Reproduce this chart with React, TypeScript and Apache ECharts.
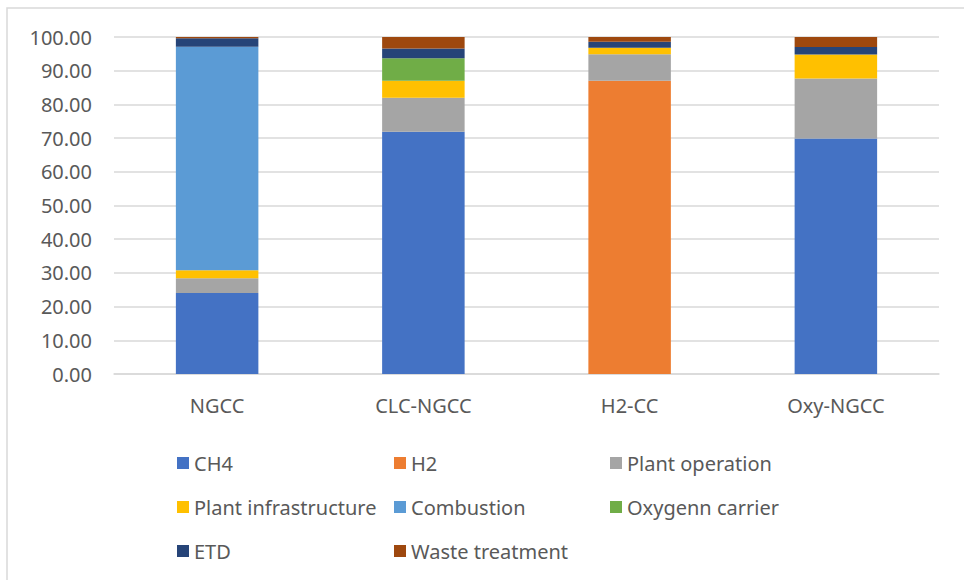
import React, { useEffect, useRef } from "react";
import * as echarts from "echarts";

const categories = ["NGCC", "CLC-NGCC", "H2-CC", "Oxy-NGCC"];
const ch4 = [24.0, 71.9, 0, 69.9];
const h2 = [0, 0, 87.0, 0];
const plantOperation = [4.4, 10.1, 7.9, 17.8];
const plantInfrastructure = [2.4, 5.0, 1.9, 7.1];
const combustion = [66.3, 0, 0, 0];
const oxygenCarrier = [0, 6.7, 0, 0];
const etd = [2.5, 2.9, 1.8, 2.2];
const wasteTreatment = [0.4, 3.4, 1.4, 3.0];
const yTicks = [0, 10, 20, 30, 40, 50, 60, 70, 80, 90, 100];

const seriesDefs = [
  { name: "CH4", data: ch4, color: "#4472C4" },
  { name: "H2", data: h2, color: "#ED7D31" },
  { name: "Plant operation", data: plantOperation, color: "#A5A5A5" },
  { name: "Plant infrastructure", data: plantInfrastructure, color: "#FFC000" },
  { name: "Combustion", data: combustion, color: "#5B9BD5" },
  { name: "Oxygenn carrier", data: oxygenCarrier, color: "#70AD47" },
  { name: "ETD", data: etd, color: "#264478" },
  { name: "Waste treatment", data: wasteTreatment, color: "#9E480E" },
];

const FONT = "Noto Sans";
const TXT = "#595959";

export default function App() {
  const ref = useRef<HTMLDivElement>(null);
  useEffect(() => {
    if (!ref.current) return;
    const chart = echarts.init(ref.current, null, { renderer: "svg" });
    const legendBase = {
      orient: "vertical" as const,
      top: 448,
      itemWidth: 12,
      itemHeight: 12,
      itemGap: 24,
      icon: "rect",
      textStyle: { color: TXT, fontSize: 20, fontFamily: FONT, lineHeight: 20 },
    };
    chart.setOption({
      animation: false,
      backgroundColor: "#ffffff",
      textStyle: { fontFamily: FONT },
      graphic: [
        {
          type: "rect",
          shape: { x: 7, y: 8, width: 990, height: 600 },
          style: { fill: "none", stroke: "#d9d9d9", lineWidth: 1.5 },
          silent: true,
        },
      ],
      grid: { left: 114, right: 25, top: 37, bottom: 206 },
      legend: [
        { ...legendBase, left: 172, data: ["CH4", "Plant infrastructure", "ETD"] },
        { ...legendBase, left: 389, data: ["H2", "Combustion", "Waste treatment"] },
        { ...legendBase, left: 605, data: ["Plant operation", "Oxygenn carrier"] },
      ],
      xAxis: {
        type: "category",
        data: categories,
        axisLine: { show: true, lineStyle: { color: "#d9d9d9", width: 1.5 } },
        axisTick: { show: false },
        axisLabel: { color: TXT, fontSize: 20, fontFamily: FONT, margin: 21 },
      },
      yAxis: {
        type: "value",
        min: yTicks[0],
        max: yTicks[yTicks.length - 1],
        interval: 10,
        axisLine: { show: false },
        axisTick: { show: false },
        splitLine: { lineStyle: { color: "#d9d9d9", width: 1.5 } },
        axisLabel: {
          color: TXT,
          fontSize: 20,
          fontFamily: FONT,
          margin: 22,
          formatter: (v: number) => v.toFixed(2),
        },
      },
      series: seriesDefs.map((s) => ({
        name: s.name,
        type: "bar",
        stack: "total",
        barWidth: "40%",
        data: s.data,
        itemStyle: { color: s.color },
      })),
    });
    return () => chart.dispose();
  }, []);
  return (
    <div
      ref={ref}
      style={{ position: "fixed", left: 0, top: 0, width: 964, height: 580 }}
    />
  );
}
